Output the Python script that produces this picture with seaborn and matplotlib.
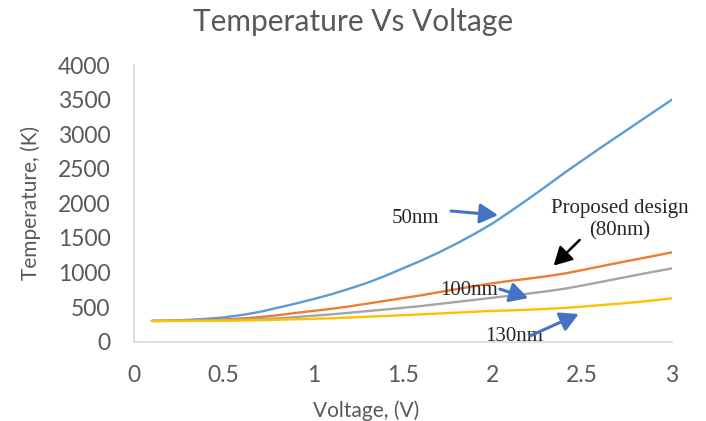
import pandas as pd
import matplotlib
matplotlib.use("Agg")
import matplotlib.pyplot as plt
import seaborn as sns

# Applied voltage (V) and resulting temperature (K) for each device size
voltage = [0.1, 0.2, 0.3, 0.4, 0.5, 0.6, 0.7, 0.8, 0.9, 1.0,
           1.1, 1.2, 1.3, 1.4, 1.5, 1.6, 1.7, 1.8, 1.9, 2.0,
           2.1, 2.2, 2.3, 2.4, 2.5, 2.6, 2.7, 2.8, 2.9, 3.0]
temp_50nm = [300, 305, 315, 330, 350, 385, 430, 490, 550, 615,
             685, 765, 850, 950, 1060, 1170, 1290, 1420, 1560, 1710,
             1885, 2065, 2250, 2440, 2620, 2800, 2975, 3150, 3325, 3500]
temp_80nm = [300, 302, 306, 312, 320, 335, 355, 382, 415, 445,
             475, 510, 550, 590, 630, 670, 715, 760, 805, 845,
             880, 912, 945, 985, 1035, 1088, 1140, 1190, 1240, 1292]
temp_100nm = [300, 301, 303, 306, 310, 316, 325, 337, 355, 375,
              395, 418, 442, 465, 490, 515, 545, 575, 605, 635,
              665, 695, 728, 765, 812, 862, 913, 963, 1012, 1060]
temp_130nm = [300, 300, 301, 302, 303, 306, 310, 316, 324, 331,
              338, 349, 360, 371, 383, 395, 407, 420, 433, 445,
              453, 462, 474, 488, 507, 528, 548, 572, 598, 627]

series_names = ["50nm", "80nm", "100nm", "130nm"]
series_colors = ["#5B9BD5", "#ED7D31", "#A5A5A5", "#FFC000"]

x_ticks = [0, 0.5, 1, 1.5, 2, 2.5, 3]
x_tick_labels = ["0", "0.5", "1", "1.5", "2", "2.5", "3"]
y_ticks = [0, 500, 1000, 1500, 2000, 2500, 3000, 3500, 4000]

df = pd.concat(
    [
        pd.DataFrame({"Voltage": voltage, "Temperature": t, "Size": name})
        for name, t in zip(series_names, [temp_50nm, temp_80nm, temp_100nm, temp_130nm])
    ],
    ignore_index=True,
)

sns.set_style("white")
ui_font = ["Lato", "DejaVu Sans"]
serif_font = ["Liberation Serif", "DejaVu Serif"]
plt.rcParams["font.family"] = ui_font

fig = plt.figure(figsize=(7.06, 4.21), dpi=100)
ax = fig.add_axes([0.1898, 0.1884, 0.762, 0.6572])

sns.lineplot(
    data=df, x="Voltage", y="Temperature", hue="Size",
    palette=series_colors, linewidth=1.7, legend=False, ax=ax,
)

ax.set_xlim(0, 3)
ax.set_ylim(0, 4000)
ax.set_xticks(x_ticks)
ax.set_xticklabels(x_tick_labels)
ax.set_yticks(y_ticks)
ax.tick_params(axis="both", length=0, labelsize=16.5, labelcolor="#595959")
ax.tick_params(axis="x", pad=17)
ax.tick_params(axis="y", pad=17)

for side in ["top", "right"]:
    ax.spines[side].set_visible(False)
for side in ["left", "bottom"]:
    ax.spines[side].set_color("#D9D9D9")
    ax.spines[side].set_linewidth(1.2)

ax.set_xlabel("Voltage, (V)", fontsize=15, color="#595959", labelpad=10, x=0.431)
ax.set_ylabel("Temperature, (K)", fontsize=15, color="#595959", labelpad=12)
fig.text(0.5, 1 - 22 / 421, "Temperature Vs Voltage", fontsize=21.5, color="#595959",
         ha="center", va="center")

# Curve labels with pointer arrows
blue_arrow = dict(arrowstyle="-|>,head_length=1.1,head_width=0.6", color="#4472C4", lw=2.2,
                  shrinkA=0, shrinkB=0)
black_arrow = dict(arrowstyle="-|>,head_length=1.1,head_width=0.6", color="black", lw=1.8,
                   shrinkA=0, shrinkB=0)

ax.text(1.567, 1788, "50nm", fontsize=15, family=serif_font, ha="center", va="center")
ax.annotate("", xy=(2.03, 1830), xytext=(1.768, 1889), arrowprops=blue_arrow)

ax.text(2.71, 1759, "Proposed design\n(80nm)", fontsize=15, family=serif_font,
        ha="center", va="center", linespacing=1.25)
ax.annotate("", xy=(2.34, 1100), xytext=(2.485, 1470), arrowprops=black_arrow)

ax.text(1.868, 740, "100nm", fontsize=15, family=serif_font, ha="center", va="center")
ax.annotate("", xy=(2.198, 630), xytext=(2.04, 760), arrowprops=blue_arrow)

ax.text(2.12, 80, "130nm", fontsize=15, family=serif_font, ha="center", va="center",
        clip_on=False)
ax.annotate("", xy=(2.48, 400), xytext=(2.21, 85), arrowprops=blue_arrow,
            annotation_clip=False)

fig.savefig("out.png", dpi=100)
